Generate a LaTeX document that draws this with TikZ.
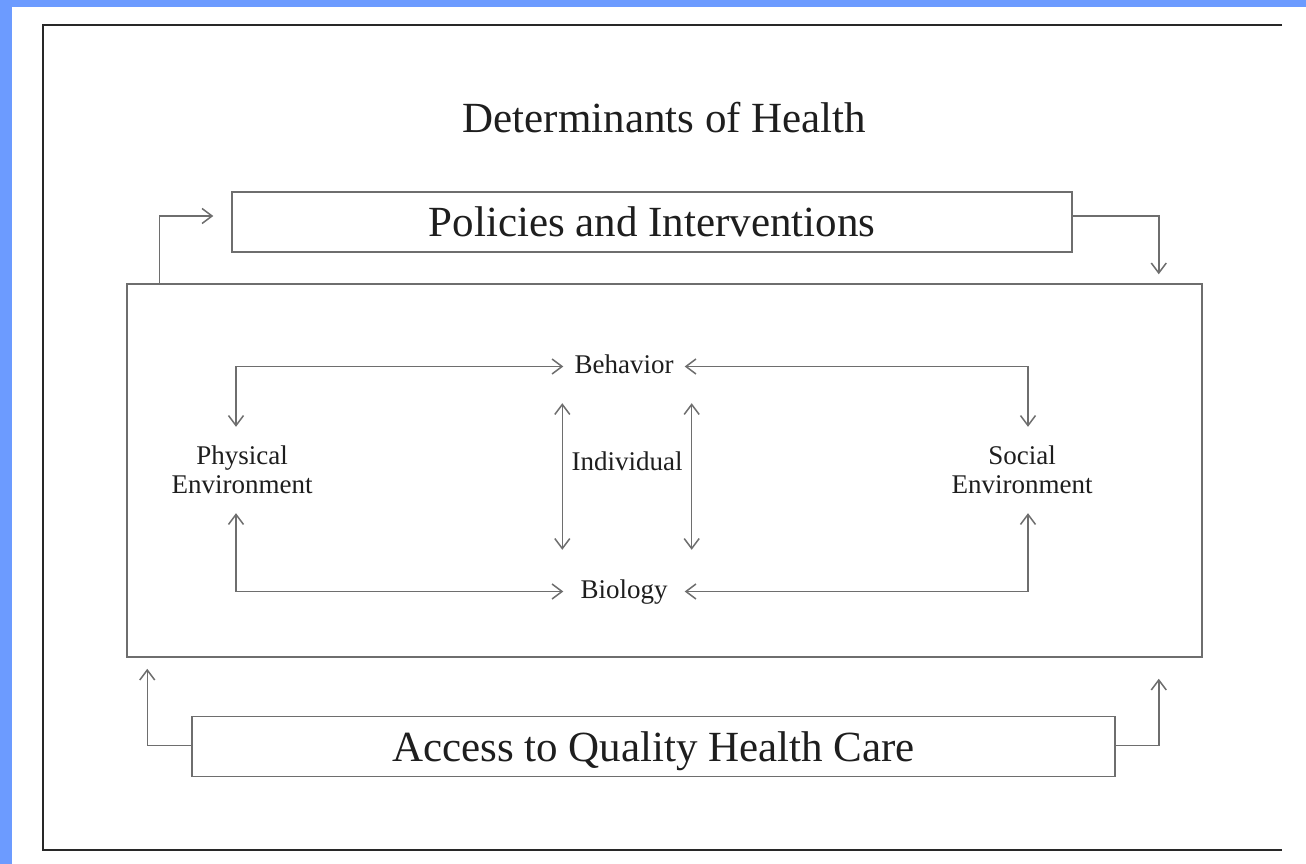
\documentclass[tikz,border=0pt]{standalone}
\usepackage{fontspec}
\setmainfont{Liberation Serif}
\usetikzlibrary{arrows.meta}
\definecolor{slideblue}{RGB}{108,155,255}
\definecolor{frameink}{RGB}{40,40,40}
\definecolor{boxink}{RGB}{110,110,110}
\definecolor{textink}{RGB}{30,30,30}
\newcommand{\boxfont}{\fontsize{43}{50}\selectfont}
\newcommand{\innerfont}{\fontsize{27}{29}\selectfont}

\begin{document}
\begin{tikzpicture} [x=1pt, y=-1pt, align=center, text=textink,
    >={Straight Barb[length=10pt,width=15pt]},
    bar/.style={draw=boxink, line width=1.5pt, font=\boxfont, text height=29pt, text depth=0pt, minimum height=60pt},
    word/.style={font=\innerfont, text height=19pt, text depth=6pt},
    link/.style={draw=boxink, line width=1.5pt}]
  \fill [slideblue] (0,0) rectangle (1306,864);
  \fill [white] (12,7) rectangle (1306,864);
  \draw [frameink, line width=2.2pt] (1282,25) -- (43,25) -- (43,850) -- (1282,850);

  \path  (664.5,133)   node[anchor=base, font=\boxfont](title) {Determinants of Health}
         (652,222)     node[bar, minimum width=840pt](pol) {Policies and Interventions}
         (664.5,470.5) node[draw=boxink, line width=1.5pt, minimum width=1075pt, minimum height=373pt](main) {}
         (653.5,746.5) node[bar, minimum width=923pt](acc) {Access to Quality Health Care}
         (624,366.5)   node[word, inner xsep=11pt, inner ysep=24pt](beh) {Behavior}
         (624,591.5)   node[word, inner xsep=17pt, inner ysep=29pt](bio) {Biology}
         (627,464)     node[word, inner xsep=9pt](ind) {Individual}
         (242,470)     node[font=\innerfont, inner ysep=19pt](phys) {Physical\\Environment}
         (1022,470)    node[font=\innerfont, inner ysep=19pt](soc) {Social\\Environment};

    \draw [link,->] ([xshift=33pt]main.north west) |- ([xshift=-18pt,yshift=6pt]pol.west);
    \draw [link,->] ([yshift=6pt]pol.east) -| ([xshift=-44pt,yshift=9pt]main.north east);
    \draw [link,->] ([yshift=1pt]acc.west) -| ([xshift=21pt,yshift=-11pt]main.south west);
    \draw [link,->] ([yshift=1pt]acc.east) -| ([xshift=-44pt,yshift=-21pt]main.south east);

    \draw [link,<->] ([xshift=-6pt]phys.north) |- (beh.west);
    \draw [link,<->] ([xshift=-6pt]phys.south) |- (bio.west);
    \draw [link,<->] ([xshift=6pt]soc.north) |- (beh.east);
    \draw [link,<->] ([xshift=6pt]soc.south) |- (bio.east);
    \draw [link,<->] (beh.south -| ind.west) -- (bio.north -| ind.west);
    \draw [link,<->] (beh.south -| ind.east) -- (bio.north -| ind.east);

\end{tikzpicture}
\end{document}
